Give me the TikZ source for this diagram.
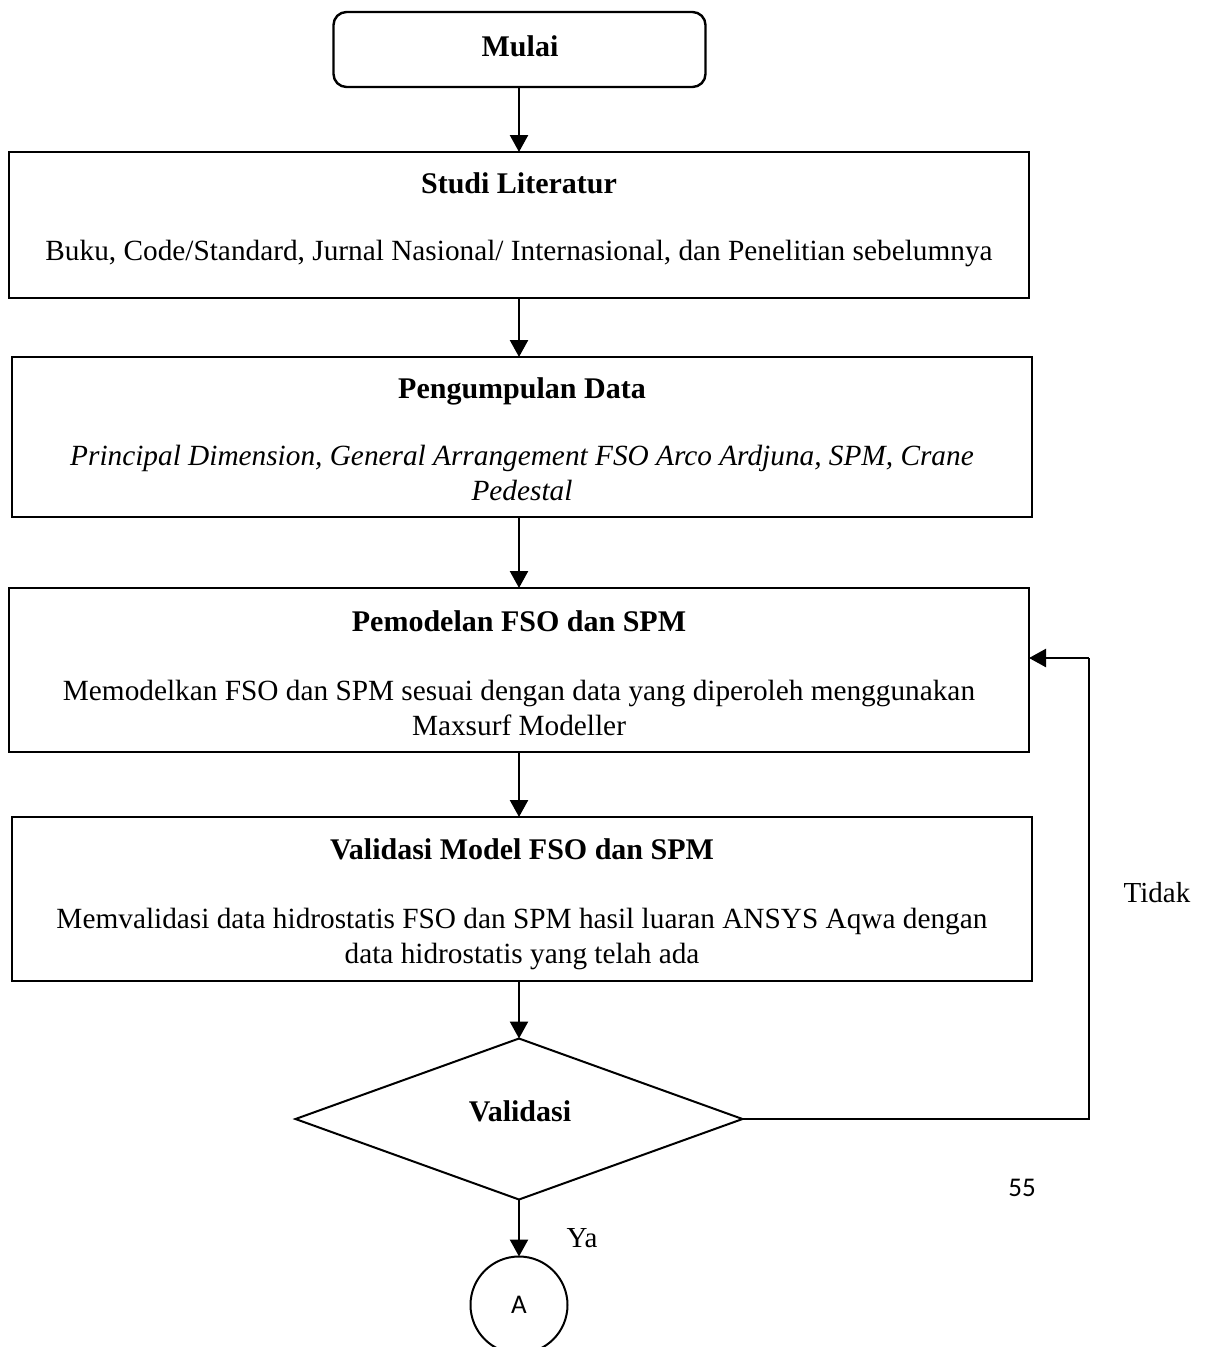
\documentclass[tikz,border=0pt]{standalone}
\usepackage{fontspec}
\setmainfont{Liberation Serif}
\newfontfamily\calib{Carlito}
\usetikzlibrary{arrows.meta,shapes.geometric}
\begin{document}
\begin{tikzpicture}[x=1pt,y=-1pt,
  box/.style={draw,line width=2.4pt,inner sep=0pt,outer sep=0pt},
  ttl/.style={font=\fontsize{30}{36}\selectfont\bfseries,anchor=base,inner sep=0pt},
  bdy/.style={font=\fontsize{29.3}{36}\selectfont,anchor=base,inner sep=0pt},
  lbl/.style={font=\fontsize{29}{36}\selectfont,anchor=base,inner sep=0pt},
  conn/.style={line width=2.4pt,-{Triangle[length=17pt,width=18pt]}},
  fback/.style={line width=1.5pt},
]
\useasboundingbox (0,0) rectangle (1209,1347);

% start
\node[box,rounded corners=13pt,minimum width=372pt,minimum height=75pt] (mulai) at (519.5,49.5) {};
\node[ttl] (tmulai) at (520,56) {Mulai};

% boxes
\node[box,minimum width=1020pt,minimum height=146pt] (studi) at (519,225) {};
\node[ttl] (tstudi) at (519,193) {Studi Literatur};
\node[bdy] (bstudi) at (519,260) {Buku, Code/Standard, Jurnal Nasional/ Internasional, dan Penelitian sebelumnya};

\node[box,minimum width=1020pt,minimum height=160pt] (data) at (522,437) {};
\node[ttl] (tdata) at (522,398) {Pengumpulan Data};
\node[bdy,font=\fontsize{29.3}{36}\selectfont\itshape] (bdata1) at (522,465) {Principal Dimension, General Arrangement FSO Arco Ardjuna, SPM, Crane};
\node[bdy,font=\fontsize{29.3}{36}\selectfont\itshape] (bdata2) at (522,500) {Pedestal};

\node[box,minimum width=1020pt,minimum height=164pt] (model) at (519,670) {};
\node[ttl] (tmodel) at (519,631) {Pemodelan FSO dan SPM};
\node[bdy] (bmodel1) at (519,700) {Memodelkan FSO dan SPM sesuai dengan data yang diperoleh menggunakan};
\node[bdy] (bmodel2) at (519,735) {Maxsurf Modeller};

\node[box,minimum width=1020pt,minimum height=164pt] (valm) at (522,899) {};
\node[ttl] (tvalm) at (522,859) {Validasi Model FSO dan SPM};
\node[bdy] (bvalm1) at (522,928) {Memvalidasi data hidrostatis FSO dan SPM hasil luaran ANSYS Aqwa dengan};
\node[bdy] (bvalm2) at (522,963) {data hidrostatis yang telah ada};

% decision
\node[draw,diamond,line width=2pt,inner sep=0pt,outer sep=0pt,minimum width=447pt,minimum height=161pt] (dia) at (519,1119) {};
\node[ttl] (tdia) at (520,1121) {Validasi};

% connector circle
\node[draw,circle,line width=2pt,minimum size=97pt,inner sep=0pt,outer sep=0pt,font=\calib\fontsize{27}{30}\selectfont] (ca) at (519,1305) {A};

% connectors
\draw[conn] (mulai.south -| 519,0) -- (519,0 |- studi.north);
\draw[conn] (studi.south) -- (studi.south |- data.north);
\draw[conn] (studi.south |- data.south) -- (studi.south |- model.north);
\draw[conn] (model.south) -- (model.south |- valm.north);
\draw[conn] (model.south |- valm.south) -- (dia.north);
\draw[conn] (dia.south) -- (ca.north);

% feedback loop
\coordinate (fb1) at (1089,1119);
\coordinate (fb2) at (1089,658);
\draw[fback] (dia.east) -- (fb1) -- (fb2);
\draw[conn] (fb2) -- (model.east |- fb2);

% labels
\node[lbl] (tidak) at (1157,902) {Tidak};
\node[lbl] (ya) at (582,1247) {Ya};
\node[font=\calib\fontsize{27}{30}\selectfont,anchor=base,inner sep=0pt] (pg) at (1022,1196) {55};
\end{tikzpicture}
\end{document}
